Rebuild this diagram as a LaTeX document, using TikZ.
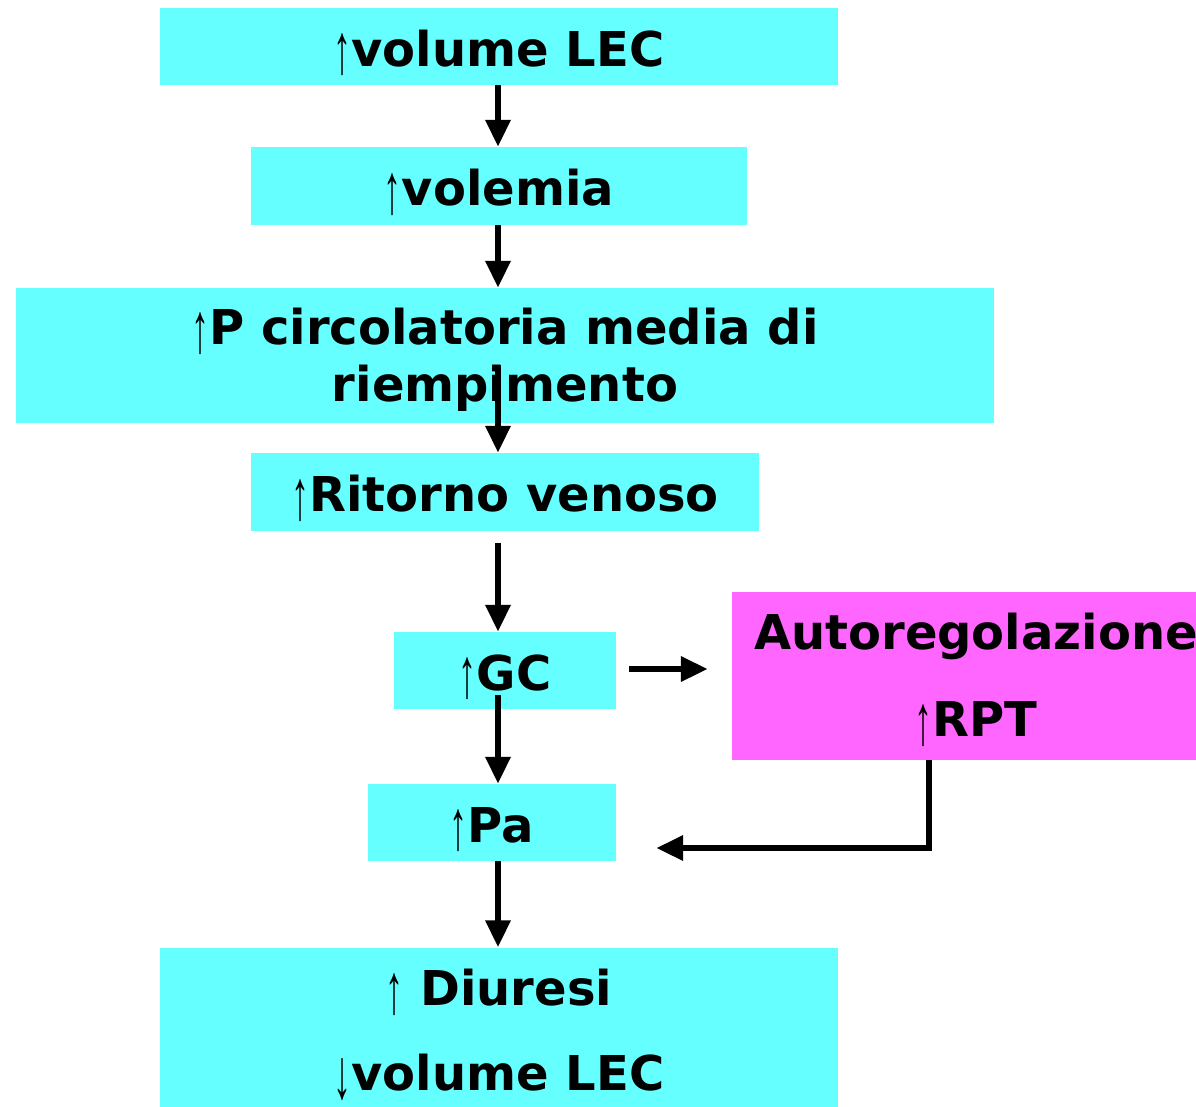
\documentclass[tikz,border=0pt]{standalone}
\usepackage{fontspec}
\usepackage{graphicx}
\setmainfont{DejaVu Sans}
\newfontfamily\arrfont{Liberation Serif}
\usetikzlibrary{arrows.meta}
\definecolor{cyanbox}{HTML}{66FFFF}
\definecolor{magbox}{HTML}{FF66FF}
\newcommand{\up}{\raisebox{-10pt}{\resizebox*{18pt}{42pt}{\raisebox{\depth}{\arrfont\mdseries ↑}}}}
\newcommand{\dn}{\raisebox{-10pt}{\resizebox*{18pt}{42pt}{\raisebox{\depth}{\arrfont\mdseries ↓}}}}
\newcommand{\lines}[2]{\raisebox{0pt}[\dimexpr\height+#1\relax]{\begin{tabular}{@{}c@{}}#2\end{tabular}}}
\begin{document}
\begin{tikzpicture}[x=1pt,y=-1pt,
  box/.style={fill=cyanbox, draw=none, inner sep=0pt, font=\fontsize{48}{57}\selectfont\bfseries},
  one/.style={box, text height=45pt, text depth=6pt},
  mbox/.style={box, fill=magbox},
  arr/.style={line width=6.5pt, -{Triangle[width=24pt,length=27pt]}}]
\useasboundingbox (0,0) rectangle (1196,1106);
\node[one, minimum width=678pt, minimum height=77pt] (b1) at (499,46.5) {\up volume LEC};
\node[one, minimum width=496pt, minimum height=78pt] (b2) at (499,186) {\up volemia};
\node[box, minimum width=978pt, minimum height=135pt] (b3) at (505,355.5) {\lines{12pt}{\up P circolatoria media di\\riempimento}};
\node[one, minimum width=508pt, minimum height=78pt] (b4) at (505,492) {\up Ritorno venoso};
\node[one, minimum width=222pt, minimum height=77pt] (gc) at (505,670.5) {\up GC};
\node[mbox, minimum width=488pt, minimum height=168pt] (auto) at (976,676) {\lines{12pt}{Autoregolazione\\[30pt]\up RPT}};
\node[one, minimum width=248pt, minimum height=77pt] (pa) at (492,822.5) {\up Pa};
\node[box, minimum width=678pt, minimum height=157pt] (dz) at (499,1027.5) {\lines{18pt}{\up\ Diuresi\\[28pt]\dn volume LEC}};
\coordinate (fb) at (929,848);
\draw[arr] (b1.south -| 498,0) -- (b2.north -| 498,0);
\draw[arr] (b2.south -| 498,0) -- (b3.north -| 498,0);
\draw[arr] ([yshift=58pt]b3.south -| 498,0) -- (b4.north -| 498,0);
\draw[arr] ([yshift=-12pt]b4.south -| 498,0) -- (gc.north -| 498,0);
\draw[arr] ([yshift=14pt]gc.south -| 498,0) -- (pa.north -| 498,0);
\draw[arr] (pa.south -| 498,0) -- (dz.north -| 498,0);
\draw[arr] ([xshift=13pt]gc.east |- 0,669) -- ([xshift=-24pt]auto.west |- 0,669);
\draw[arr] (auto.south -| fb) -- (fb) -- ([xshift=40pt]fb -| pa.east);
\end{tikzpicture}
\end{document}
